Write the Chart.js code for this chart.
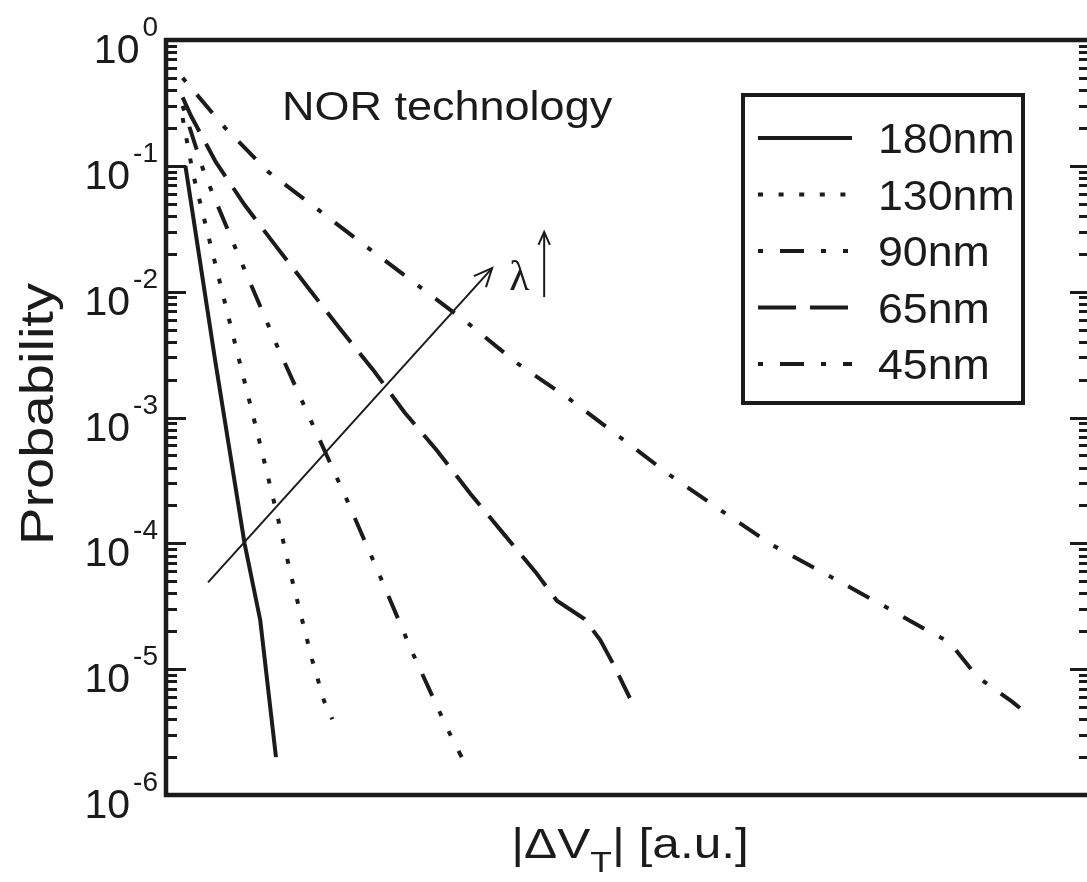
<!DOCTYPE html>
<html>
<head>
<meta charset="utf-8">
<script src="https://cdn.jsdelivr.net/npm/chart.js@4.4.0/dist/chart.umd.min.js"></script>
<style>
  html, body { margin: 0; padding: 0; background: #fff; overflow: hidden; }
  #wrap { width: 1095px; height: 882px; }
</style>
</head>
<body>
<div id="wrap"><canvas id="probChart" width="1095" height="882"></canvas></div>
<script>
// |dVT| tail distributions per technology node (x in a.u.)
const nodes = ['180nm', '130nm', '90nm', '65nm', '45nm']

const dv180 = [0.21, 0.53, 0.85, 1.02, 1.19]
const prob180 = [0.1, 2.9e-3, 1.0e-4, 2.45e-5, 2.0e-6]

const dv130 = [0.18, 0.29, 0.51, 0.78, 1.00, 1.21, 1.36, 1.58, 1.71, 1.80]
const prob130 = [0.24, 0.088, 0.0195, 3.1e-3, 7.0e-4, 1.6e-4, 5.3e-5, 1.2e-5, 5.6e-6, 4.0e-6]

const dv90 = [0.18, 0.42, 0.77, 1.21, 1.59, 1.96, 2.32, 2.67, 3.05, 3.20]
const prob90 = [0.3, 0.085, 0.0206, 3.6e-3, 8.7e-4, 2.2e-4, 5.4e-5, 1.34e-5, 3.3e-6, 2.0e-6]

const dv65 = [0.18, 0.27, 0.54, 0.85, 1.19, 1.54, 1.89, 2.24, 2.58, 2.93, 3.29, 3.65, 4.00, 4.23, 4.53, 4.70, 4.84, 5.02]
const prob65 = [0.35, 0.25, 0.107, 0.049, 0.023, 0.0107, 5.0e-3, 2.4e-3, 1.1e-3, 5.5e-4, 2.5e-4, 1.2e-4, 5.9e-5, 3.5e-5, 2.5e-5, 1.7e-5, 1.1e-5, 5.9e-6]

const dv45 = [0.18, 0.64, 1.11, 1.65, 2.19, 2.72, 3.27, 3.80, 4.35, 4.91, 5.45, 6.00, 6.56, 7.14, 7.73, 8.31, 8.48, 8.78, 9.16, 9.32]
const prob45 = [0.5, 0.2, 0.0893, 0.0446, 0.0222, 0.0113, 5.6e-3, 2.7e-3, 1.43e-3, 7.0e-4, 3.5e-4, 1.84e-4, 9.7e-5, 5.7e-5, 3.3e-5, 1.9e-5, 1.64e-5, 8.7e-6, 5.5e-6, 4.4e-6]

// y axis: decade labels and minor tick multiples
const decadeExps = [0, -1, -2, -3, -4, -5, -6]
const minorSteps = [2, 3, 4, 5, 6, 7, 8, 9]

// "lambda grows" arrow, in data units
const arrowFrom = { x: 0.455, y: 4.9e-5 }
const arrowTo = { x: 3.53, y: 0.0154 }

const ink = '#1b1b1b'
const sans = '"Liberation Sans", Arial, Helvetica, sans-serif'

const toPoints = (xs, ys) => xs.map((x, i) => ({ x: x, y: ys[i] }))

// dash patterns; offsets make the dashed ones start on a dot
const lineStyles = {
    '180nm': { dash: [], offset: 0, legendOffset: 0 },
    '130nm': { dash: [5, 15.6], offset: 0, legendOffset: 0 },
    '90nm': { dash: [24, 17, 5, 17, 5, 17], offset: 63, legendOffset: 63 },
    '65nm': { dash: [38, 14], offset: 0, legendOffset: 0 },
    '45nm': { dash: [24, 17, 5, 17], offset: 41, legendOffset: 41 },
}

const seriesData = [
    toPoints(dv180, prob180),
    toPoints(dv130, prob130),
    toPoints(dv90, prob90),
    toPoints(dv65, prob65),
    toPoints(dv45, prob45),
]

const datasets = nodes.map((name, i) => ({
    label: name,
    data: seriesData[i],
    borderColor: ink,
    borderWidth: 4,
    borderDash: lineStyles[name].dash,
    borderDashOffset: lineStyles[name].offset,
    borderCapStyle: 'butt',
    pointRadius: 0,
    fill: false,
    tension: 0,
}))

const drawArrowHead = (ctx, x, y, angle, len) => {
    ctx.beginPath()
    ctx.moveTo(x - len * Math.cos(angle - 0.42), y - len * Math.sin(angle - 0.42))
    ctx.lineTo(x, y)
    ctx.lineTo(x - len * Math.cos(angle + 0.42), y - len * Math.sin(angle + 0.42))
    ctx.stroke()
}

// text widened along its baseline by sx
const wideText = (ctx, text, x, y, sx) => {
    ctx.save()
    ctx.translate(x, y)
    ctx.scale(sx, 1)
    ctx.fillText(text, 0, 0)
    ctx.restore()
    return ctx.measureText(text).width * sx
}

// frame, inward ticks, tick labels, titles, legend and annotation
const figureDecor = {
    id: 'figureDecor',
    afterDraw(chart) {
        const { ctx, chartArea: a, scales: { x, y } } = chart
        ctx.save()
        ctx.strokeStyle = ink
        ctx.fillStyle = ink

        // plot frame
        ctx.lineWidth = 4.5
        ctx.setLineDash([])
        ctx.strokeRect(a.left, a.top, a.right - a.left, a.bottom - a.top)

        // y ticks on both sides, pointing inward
        ctx.lineWidth = 3
        y.ticks.forEach(t => {
            const py = Math.round(y.getPixelForValue(t.value)) + 0.5
            const len = t.major ? 20 : 11
            ctx.beginPath()
            ctx.moveTo(a.left, py)
            ctx.lineTo(a.left + len, py)
            ctx.moveTo(a.right, py)
            ctx.lineTo(a.right - len, py)
            ctx.stroke()
        })

        // decade labels 10^n
        ctx.textAlign = 'right'
        ctx.textBaseline = 'alphabetic'
        decadeExps.forEach(e => {
            const py = y.getPixelForValue(Math.pow(10, e))
            const expText = String(e)
            ctx.font = '28px ' + sans
            const ew = ctx.measureText(expText).width
            ctx.fillText(expText, 158, py - 4)
            ctx.font = '41px ' + sans
            ctx.fillText('10', 158 - ew - 3, py + 23)
        })

        // y title
        ctx.save()
        ctx.translate(40, 414)
        ctx.rotate(-Math.PI / 2)
        ctx.textAlign = 'center'
        ctx.textBaseline = 'middle'
        ctx.font = '46px ' + sans
        ctx.scale(1.22, 1)
        ctx.fillText('Probability', 0, 0)
        ctx.restore()

        // x title |ΔV_T| [a.u.]
        ctx.textAlign = 'left'
        const sx = 1.18
        const mainFont = '42px ' + sans
        const subFont = '30px ' + sans
        ctx.font = mainFont
        const w1 = ctx.measureText('|\u0394V').width * sx
        const w3 = ctx.measureText('| [a.u.]').width * sx
        ctx.font = subFont
        const w2 = ctx.measureText('T').width * sx
        let tx = 630 - (w1 + w2 + w3) / 2
        const baseY = 858
        ctx.font = mainFont
        wideText(ctx, '|\u0394V', tx, baseY, sx)
        tx += w1
        ctx.font = subFont
        wideText(ctx, 'T', tx, baseY + 14, sx)
        tx += w2
        ctx.font = mainFont
        wideText(ctx, '| [a.u.]', tx, baseY, sx)

        // in-plot caption
        ctx.font = '40px ' + sans
        wideText(ctx, 'NOR technology', 282, 120, 1.125)

        // legend
        const box = { left: 743, top: 95, width: 280, height: 308 }
        ctx.lineWidth = 4
        ctx.strokeRect(box.left, box.top, box.width, box.height)
        chart.data.datasets.forEach((ds, i) => {
            const rowY = 138 + i * 56.5
            ctx.save()
            ctx.lineWidth = ds.borderWidth
            ctx.lineCap = ds.borderCapStyle
            ctx.setLineDash(ds.borderDash)
            ctx.lineDashOffset = lineStyles[ds.label].legendOffset
            ctx.beginPath()
            ctx.moveTo(758, rowY)
            ctx.lineTo(852, rowY)
            ctx.stroke()
            ctx.restore()
            ctx.font = '43px ' + sans
            wideText(ctx, ds.label, 878, rowY + 15, 1.04)
        })

        // lambda arrow
        const p0 = { x: x.getPixelForValue(arrowFrom.x), y: y.getPixelForValue(arrowFrom.y) }
        const p1 = { x: x.getPixelForValue(arrowTo.x), y: y.getPixelForValue(arrowTo.y) }
        ctx.lineWidth = 2
        ctx.beginPath()
        ctx.moveTo(p0.x, p0.y)
        ctx.lineTo(p1.x, p1.y)
        ctx.stroke()
        drawArrowHead(ctx, p1.x, p1.y, Math.atan2(p1.y - p0.y, p1.x - p0.x), 20)

        ctx.font = '42px "Liberation Serif", "Times New Roman", serif'
        ctx.fillText('\u03bb', p1.x + 17, p1.y + 22)
        const ux = p1.x + 52
        ctx.beginPath()
        ctx.moveTo(ux, p1.y + 29)
        ctx.lineTo(ux, p1.y - 36)
        ctx.stroke()
        drawArrowHead(ctx, ux, p1.y - 36, -Math.PI / 2, 14)

        ctx.restore()
    }
}

const axisOff = {
    display: true,
    grid: { display: false, drawTicks: false },
    border: { display: false },
    ticks: { display: false },
    title: { display: false },
}

new Chart(document.getElementById('probChart'), {
    type: 'line',
    data: { datasets: datasets },
    options: {
        responsive: false,
        animation: false,
        devicePixelRatio: 1,
        layout: { padding: { left: 166, top: 40, right: 5, bottom: 87 } },
        plugins: { legend: { display: false }, tooltip: { enabled: false } },
        scales: {
            x: Object.assign({}, axisOff, { type: 'linear', min: 0, max: 10 }),
            y: Object.assign({}, axisOff, {
                type: 'logarithmic',
                min: 1e-6,
                max: 1,
                afterBuildTicks: (scale) => {
                    const ticks = []
                    decadeExps.forEach(e => {
                        ticks.push({ value: Math.pow(10, e), major: true })
                        if (e < 0) minorSteps.forEach(s => ticks.push({ value: s * Math.pow(10, e), major: false }))
                    })
                    scale.ticks = ticks
                },
            }),
        },
    },
    plugins: [figureDecor],
})
</script>
</body>
</html>
